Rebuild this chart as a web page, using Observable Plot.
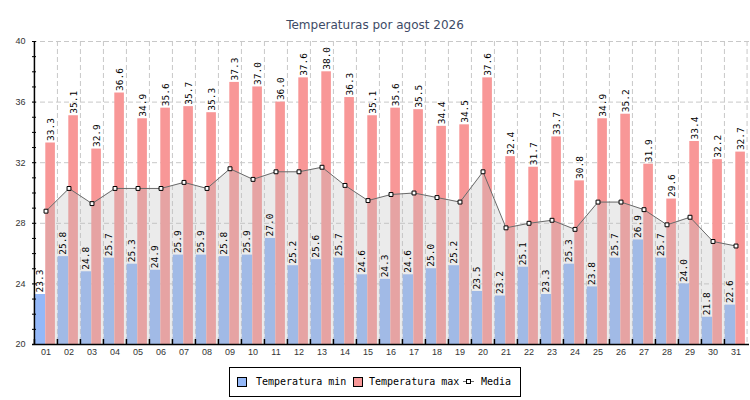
<!DOCTYPE html>
<html>
<head>
<meta charset="utf-8">
<script src="https://cdn.jsdelivr.net/npm/d3@7"></script>
<script src="https://cdn.jsdelivr.net/npm/@observablehq/plot@0.6"></script>
<style>
  html, body { margin: 0; padding: 0; background: #fff; width: 750px; height: 400px; overflow: hidden; }
  #title { height: 34px; box-sizing: border-box; padding-top: 17px; line-height: 16px; text-align: center;
           font-family: "DejaVu Sans", sans-serif; font-size: 12px; color: #3d4b66; }
  #legend { position: absolute; left: 229px; top: 367px; width: 292px; height: 30px; box-sizing: border-box;
            border: 1px solid #000; font-family: "DejaVu Sans Mono", monospace; font-size: 10px; color: #000; }
  #legend .it { position: absolute; top: 0; height: 28px; line-height: 28px; white-space: nowrap; }
  #legend .sw { position: absolute; top: 9px; width: 10px; height: 10px; box-sizing: border-box; border: 1px solid #000; }
</style>
</head>
<body>
<div id="title">Temperaturas por agost 2026</div>
<div id="chart"></div>
<div id="legend"></div>
<script>
const days = ["01","02","03","04","05","06","07","08","09","10","11","12","13","14","15","16","17","18","19","20","21","22","23","24","25","26","27","28","29","30","31"];
const tmin = [23.3,25.8,24.8,25.7,25.3,24.9,25.9,25.9,25.8,25.9,27.0,25.2,25.6,25.7,24.6,24.3,24.6,25.0,25.2,23.5,23.2,25.1,23.3,25.3,23.8,25.7,26.9,25.7,24.0,21.8,22.6];
const tmax = [33.3,35.1,32.9,36.6,34.9,35.6,35.7,35.3,37.3,37.0,36.0,37.6,38.0,36.3,35.1,35.6,35.5,34.4,34.5,37.6,32.4,31.7,33.7,30.8,34.9,35.2,31.9,29.6,33.4,32.2,32.7];
const media = [28.8,30.3,29.3,30.3,30.3,30.3,30.7,30.3,31.6,30.9,31.4,31.4,31.7,30.5,29.5,29.9,30.0,29.7,29.4,31.4,27.7,28.0,28.2,27.6,29.4,29.4,28.9,27.9,28.4,26.8,26.5];
const yTicksMinor = [20,21,22,23,24,25,26,27,28,29,30,31,32,33,34,35,36,37,38,39,40];
const yTicksMajor = [20,24,28,32,36,40];
const seriesNames = ["Temperatura min", "Temperatura max", "Media"];

const colMin = "#94b8f8", colMax = "#f89797";
const data = days.map((d, i) => ({day: d, tmin: tmin[i], tmax: tmax[i], media: media[i]}));

const W = 750, H = 328, mL = 32, mR = 1, mT = 7, mB = 18;
const bw = (W - mL - mR) / days.length;
const yMin = yTicksMajor[0];
const gridStyle = {stroke: "#c8c8c8", strokeDasharray: "5,3", strokeWidth: 1};
const lab = d => d.toFixed(1);

const chart = Plot.plot({
  width: W, height: H,
  marginLeft: mL, marginRight: mR, marginTop: mT, marginBottom: mB,
  style: {fontFamily: "Liberation Sans, Arial, sans-serif", fontSize: "9px", color: "#333", background: "#fff"},
  x: {type: "band", domain: days, padding: 0, label: null},
  y: {domain: [yTicksMajor[0], yTicksMajor[yTicksMajor.length - 1]], label: null},
  marks: [
    // grid
    Plot.ruleY(yTicksMajor.slice(1), gridStyle),
    Plot.ruleX(days.slice(1), {x: d => d, dx: -bw / 2, ...gridStyle}),
    Plot.ruleX([days[days.length - 1]], {x: d => d, dx: bw / 2 - 0.5, ...gridStyle}),
    // bars
    Plot.barY(data, {x: "day", y1: yMin, y2: "tmin", fill: colMin, insetLeft: 0.7, insetRight: 11.8}),
    Plot.barY(data, {x: "day", y1: yMin, y2: "tmax", fill: colMax, insetLeft: 11.3, insetRight: 2.1}),
    // media area + line
    Plot.areaY(data, {x: "day", y1: yMin, y2: "media", fill: "#bebebe", fillOpacity: 0.31}),
    Plot.lineY(data, {x: "day", y: "media", stroke: "#6a6a6a", strokeWidth: 1}),
    Plot.dot(data, {x: "day", y: "media", symbol: "square", r: 2.2, fill: "#fff", stroke: "#000", strokeWidth: 1}),
    // value labels
    Plot.text(data, {x: "day", y: "tmin", text: d => lab(d.tmin), rotate: -90, textAnchor: "start", lineAnchor: "middle",
      dx: -5.6, dy: -2, fill: "#000", fontFamily: "DejaVu Sans Mono, monospace", fontSize: 9.5}),
    Plot.text(data, {x: "day", y: "tmax", text: d => lab(d.tmax), rotate: -90, textAnchor: "start", lineAnchor: "middle",
      dx: 4.6, dy: -2, fill: "#000", fontFamily: "DejaVu Sans Mono, monospace", fontSize: 9.5}),
    // axes
    Plot.axisY({ticks: yTicksMinor, tickSize: -4, tickFormat: () => "", stroke: "#000", label: null}),
    Plot.axisY({ticks: yTicksMajor, tickSize: 0, tickPadding: 7, fill: "#333", label: null}),
    Plot.axisX({tickSize: -5, tickFormat: () => "", dx: -bw / 2, stroke: "#000", strokeWidth: 1.5, label: null}),
    Plot.axisX({tickSize: 0, tickPadding: 4, fill: "#333", label: null}),
    Plot.ruleY([yMin], {stroke: "#000", strokeWidth: 1.5}),
    Plot.ruleX([days[0]], {x: d => d, dx: -bw / 2, stroke: "#000", strokeWidth: 1.5})
  ]
});
document.getElementById("chart").appendChild(chart);

// legend
const lg = document.getElementById("legend");
const items = [
  {name: seriesNames[0], type: "sw", color: colMin, sx: 7, tx: 26},
  {name: seriesNames[1], type: "sw", color: colMax, sx: 123, tx: 139},
  {name: seriesNames[2], type: "ln", sx: 233, tx: 251}
];
for (const it of items) {
  if (it.type === "sw") {
    const s = document.createElement("div");
    s.className = "sw"; s.style.left = it.sx + "px"; s.style.background = it.color;
    lg.appendChild(s);
  } else {
    const s = document.createElementNS("http://www.w3.org/2000/svg", "svg");
    s.setAttribute("width", 11); s.setAttribute("height", 11);
    s.style.position = "absolute"; s.style.left = it.sx + "px"; s.style.top = "8px";
    s.innerHTML = '<line x1="0" y1="5.5" x2="11" y2="5.5" stroke="#6a6a6a"/><rect x="3.5" y="3.5" width="4" height="4" fill="#fff" stroke="#000"/>';
    lg.appendChild(s);
  }
  const t = document.createElement("div");
  t.className = "it"; t.style.left = it.tx + "px"; t.textContent = it.name;
  lg.appendChild(t);
}
</script>
</body>
</html>
